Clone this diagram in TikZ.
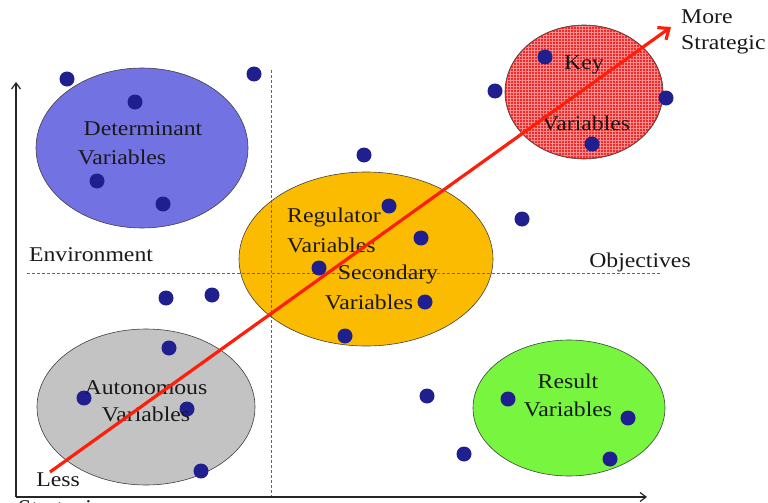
\documentclass[tikz,border=0pt]{standalone}
\usepackage{fontspec}
\setmainfont[FakeStretch=1.13]{Liberation Serif}
\usetikzlibrary{arrows.meta,patterns}
\definecolor{dotblue}{HTML}{1F1F8F}
\definecolor{detblue}{HTML}{7272E2}
\definecolor{keyred}{HTML}{EE2A2A}
\definecolor{regorange}{HTML}{FBBB00}
\definecolor{autogray}{HTML}{C3C3C3}
\definecolor{resgreen}{HTML}{77F53F}
\definecolor{arrowred}{HTML}{FF1E0A}
\tikzset{
  blob/.style={draw=black!75, line width=0.6pt},
  dot/.style={circle, fill=dotblue, minimum size=15pt, inner sep=0pt},
  lbl/.style={font=\fontsize{21}{24}\selectfont, inner sep=0pt, text=black!90},
  axis/.style={line width=1.2pt, draw=black!85, -{Straight Barb[length=6pt,width=9pt]}},
  guide/.style={dashed, draw=black!60, line width=0.7pt, dash pattern=on 3pt off 2pt},
  strat/.style={draw=arrowred, line width=3.2pt, -{Straight Barb[length=9pt,width=15pt,line width=3.2pt]}}
}
\begin{document}
\begin{tikzpicture}[x=1pt,y=-1pt]
\useasboundingbox (0,0) rectangle (768,503);
% ellipses
\path[blob, fill=detblue] (142,148) ellipse [x radius=106, y radius=80];
\path[blob, fill=keyred] (584,92) ellipse [x radius=79, y radius=67];
\path[pattern=grid, pattern color=red!45!white] (584,92) ellipse [x radius=78, y radius=66];
\path[blob, fill=regorange] (366,259) ellipse [x radius=127, y radius=87];
\path[blob, fill=autogray] (146,407) ellipse [x radius=109, y radius=78];
\path[blob, fill=resgreen] (569,408) ellipse [x radius=96, y radius=68];
% guides
\coordinate (vtop) at (271,70);
\coordinate (vbot) at (271,497);
\coordinate (hl) at (27,273);
\coordinate (hr) at (660,273);
\draw[guide] (vtop) -- (vbot);
\draw[guide] (hl) -- (hr);
% axes
\coordinate (orig) at (16,497);
\coordinate (ytip) at (16,82);
\coordinate (xtip) at (647,497);
\draw[axis] (orig) -- (ytip);
\draw[axis] (orig) -- (xtip);
% dots
\foreach \p [count=\i] in {(67,79),(135,102),(97,181),(163,204),(254,74),
  (545,57),(495,91),(666,98),(592,144),
  (389,206),(421,238),(319,268),(425,302),(345,336),(364,155),(522,219),
  (169,348),(84,398),(187,409),(201,471),(166,298),(212,295),
  (508,399),(628,418),(610,459),(427,396),(464,454)}
  \node[dot] (d\i) at \p {};
% labels
\node[lbl] (det1) at (143,129) {Determinant};
\node[lbl] (det2) at (122,157) {Variables};
\node[lbl] (key1) at (584,65) {Key};
\node[lbl] (key2) at (586,123) {Variables};
\node[lbl, anchor=west] (reg1) at (287,217) {Regulator};
\node[lbl, anchor=west] (reg2) at (287,245) {Variables};
\node[lbl] (sec1) at (388,274) {Secondary};
\node[lbl] (sec2) at (369,302) {Variables};
\node[lbl] (aut1) at (146,388) {Autonomous};
\node[lbl] (aut2) at (146,414) {Variables};
\node[lbl] (res1) at (568,381) {Result};
\node[lbl] (res2) at (568,409) {Variables};
\node[lbl] (env) at (91,255) {Environment};
\node[lbl] (obj) at (640,262) {Objectives};
\node[lbl] (less) at (58,480) {Less};
\node[lbl, anchor=west] (more1) at (681,17) {More};
\node[lbl, anchor=west] (more2) at (681,45) {Strategic};
\node[lbl, anchor=base west] (strat) at (18,514) {Strategic};
% strategic arrow
\coordinate (astart) at (50,472);
\coordinate (aend) at (671,27);
\draw[strat] (astart) -- (aend);
\end{tikzpicture}
\end{document}
